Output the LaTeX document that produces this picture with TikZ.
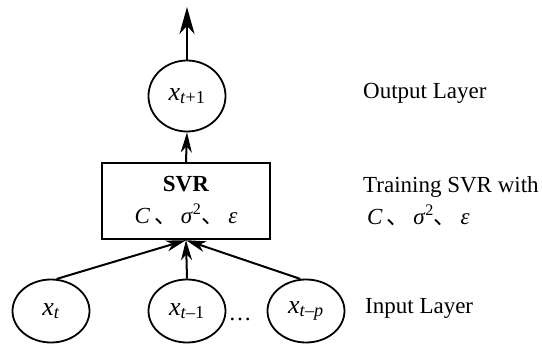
\documentclass[tikz,border=0pt]{standalone}
\usepackage{fontspec}
\setmainfont{Liberation Serif}
\newfontfamily\cjk{Noto Sans CJK SC}
\usetikzlibrary{positioning,shapes.geometric,arrows.meta}

\newcommand{\sep}{{\cjk 、}}
\newcommand{\params}{\textit{C}\,\sep\,\textit{σ}\textsuperscript{2}\sep\,\textit{ε}}

\begin{document}
\begin{tikzpicture}[
    x=1pt, y=-1pt,
    font=\fontsize{23}{32}\selectfont,
    unit/.style={ellipse, draw, line width=1.8pt, minimum width=77pt, minimum height=63pt, inner sep=0pt, font=\fontsize{26}{30}\selectfont},
    box/.style={rectangle, draw, line width=2.4pt, minimum width=168pt, minimum height=76pt, align=center},
    arrow/.style={-{Stealth[length=20pt, width=11pt, inset=6pt]}, line width=2pt},
    label/.style={anchor=west, align=left, inner sep=0pt}
]
    \useasboundingbox (0,0) rectangle (542,347);
    % Input layer
    \node[unit] (in1) at (51,311) {\textit{x}\textsubscript{\textit{t}}};
    \node[unit] (in2) at (187,311) {\textit{x}\textsubscript{\textit{t}–1}};
    \node[unit] (in3) at (306,311) {\textit{x}\textsubscript{\textit{t}–\textit{p}}};
    \node (dots) at (240,319) {…};
    % SVR box
    \node[box] (svr) at (186,201) {\textbf{SVR}\\ \params};
    % Output layer
    \node[unit, minimum height=71pt] (out) at (187,96) {\textit{x}\textsubscript{\textit{t}+1}};
    \coordinate (top) at (187,7);
    % Labels
    \node[label] (lout) at (363,93) {Output Layer};
    \node[label] (ltrain) at (363,201) {Training SVR with\\ \,\params};
    \node[label] (lin) at (365,308) {Input Layer};
    % Arrows
    \draw[arrow] (in1.80) -- (svr.south);
    \draw[arrow] (in2.north) -- (svr.south);
    \draw[arrow] (in3.100) -- (svr.south);
    \draw[arrow] (svr.north) -- (out.south);
    \draw[arrow, -{Stealth[length=27pt, width=15pt, inset=8pt]}] (out.north) -- (top);
\end{tikzpicture}
\end{document}
